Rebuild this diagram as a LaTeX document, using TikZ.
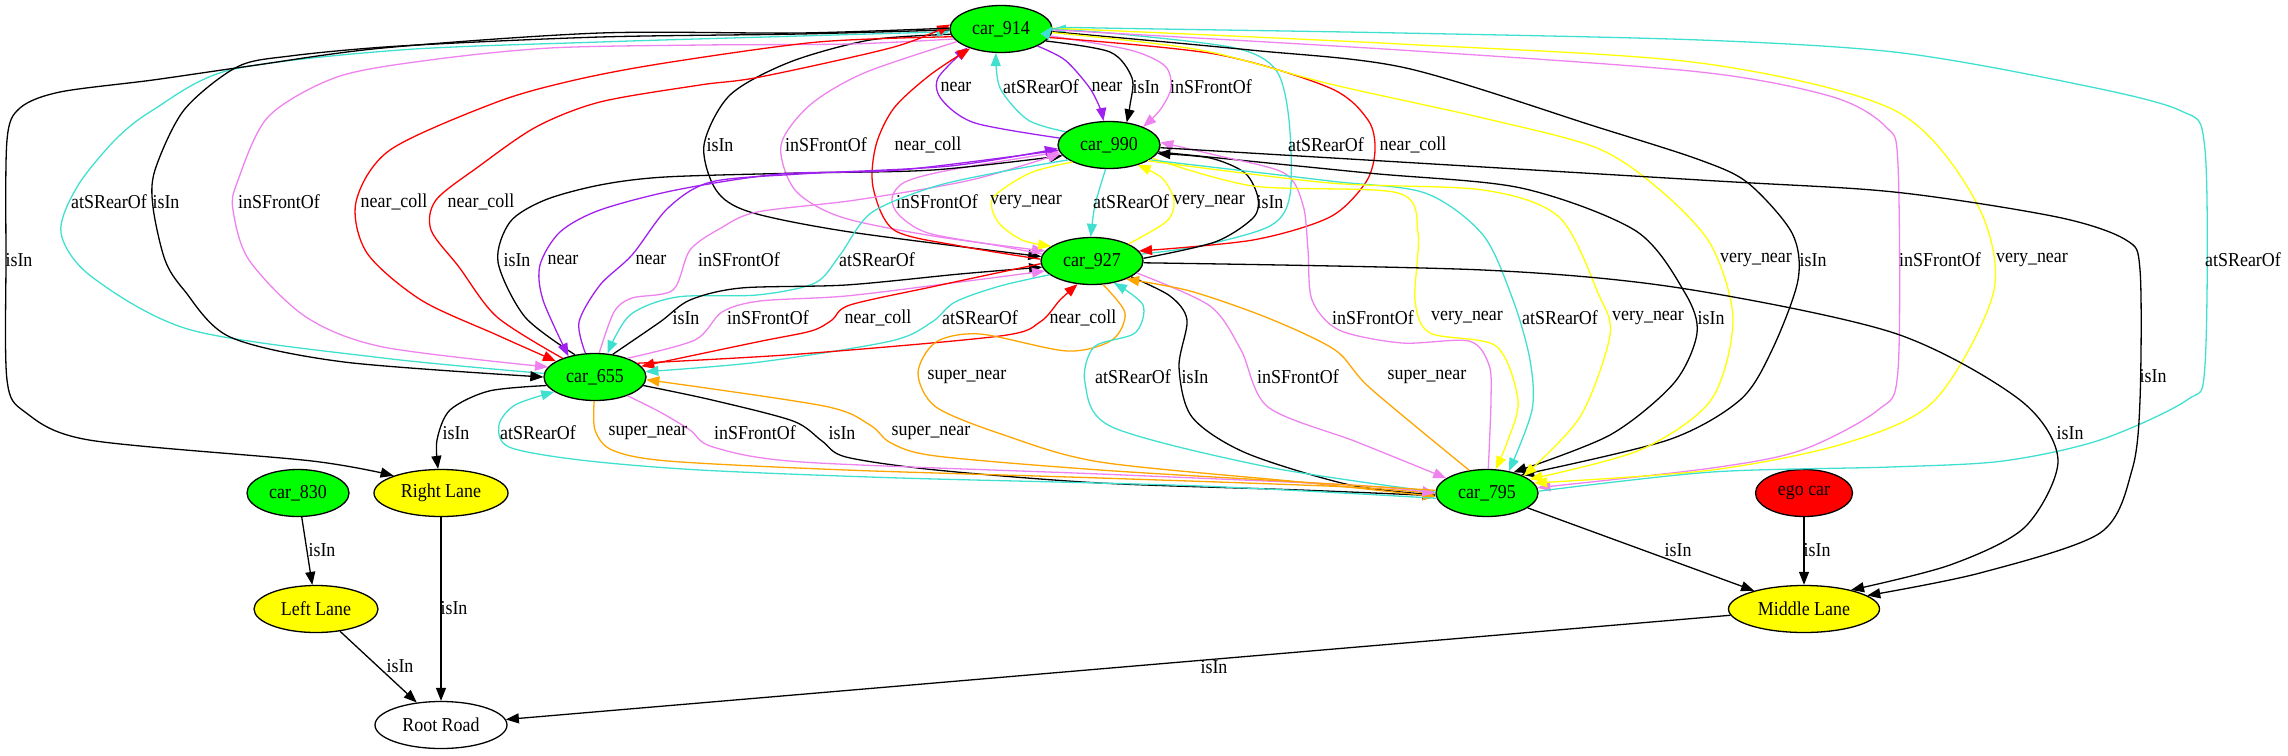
\documentclass[tikz,border=0pt]{standalone}
\usepackage{fontspec}
\setmainfont{Liberation Serif}[FakeStretch=0.91]
\usetikzlibrary{shapes.geometric,arrows.meta}
\definecolor{gvgreen}{HTML}{00FF00}
\definecolor{gvyellow}{HTML}{FFFF00}
\definecolor{gvred}{HTML}{FF0000}
\definecolor{gvpurple}{HTML}{A020F0}
\definecolor{gvturq}{HTML}{40E0D0}
\definecolor{gvviolet}{HTML}{EE82EE}
\definecolor{gvorange}{HTML}{FFA500}
\newcommand{\gvf}{\fontsize{19.7pt}{21pt}\selectfont}
\tikzset{
  edge/.style={line width=1.3pt, -{Triangle[length=13pt,width=10pt]}},
  cisin/.style={edge, draw=black},
  cnear/.style={edge, draw=gvpurple},
  crear/.style={edge, draw=gvturq},
  cfront/.style={edge, draw=gvviolet},
  ccoll/.style={edge, draw=gvred},
  cvery/.style={edge, draw=gvyellow},
  csuper/.style={edge, draw=gvorange},
  carnode/.style={ellipse, draw, line width=1.3pt, fill=gvgreen, minimum width=102pt, minimum height=47pt, inner sep=0pt, font=\gvf},
  lanenode/.style={carnode, fill=gvyellow},
  lbl/.style={font=\gvf, inner sep=0pt}
}
\begin{document}
\begin{tikzpicture}[x=1pt,y=-1pt]
\useasboundingbox (0,0) rectangle (2288,755);
% nodes
\node[carnode] (n914) at (1001,29) {car\_914};
\node[carnode] (n990) at (1109,145) {car\_990};
\node[carnode] (n927) at (1092,261) {car\_927};
\node[carnode] (n655) at (595,377) {car\_655};
\node[carnode] (n795) at (1487,493) {car\_795};
\node[carnode] (n830) at (298,493) {car\_830};
\node[lanenode, minimum width=134pt] (nRL) at (441,493) {Right Lane};
\node[carnode, fill=gvred, minimum width=97pt] (nEgo) at (1804,493) {ego car};
\node[lanenode, minimum width=124pt] (nLL) at (316,609) {Left Lane};
\node[lanenode, minimum width=151pt] (nML) at (1804,609) {Middle Lane};
\node[carnode, fill=white, minimum width=132pt] (nRoot) at (441,725) {Root Road};

% 914 - 990
\draw[cnear] plot[smooth] coordinates {(n990.172) (975,123) (942,100) (938,78) (n914.209)};
\draw[crear] plot[smooth] coordinates {(n990.163) (1028,120) (1000,88) (n914.258)};
\draw[cnear] plot[smooth] coordinates {(n914.335) (1065,60) (1089,87) (1100,108) (n990.103)};
\draw[cisin] plot[smooth] coordinates {(n914.345) (1110,52) (1132,78) (1130,105) (n990.52)};
\draw[cfront] plot[smooth] coordinates {(n914.352) (1130,50) (1165,66) (1171,88) (1160,110) (n990.28)};
\node[lbl] (l1) at (956,87) {near};
\node[lbl] (l2) at (1041,87) {atSRearOf};
\node[lbl] (l3) at (1107,87) {near};
\node[lbl] (l4) at (1146,87) {isIn};
\node[lbl] (l5) at (1211,87) {inSFrontOf};

% 914 - 927
\draw[cisin] plot[smooth] coordinates {(n914.186) (870,40) (790,62) (730,95) (704,145) (716,190) (750,212) (850,232) (n927.175)};
\draw[cfront] plot[smooth] coordinates {(n914.196) (864,73) (810,105) (781,145) (795,190) (841,217) (933,236) (n927.168)};
\draw[ccoll] plot[smooth] coordinates {(n927.178) (960,246) (894,230) (873,187) (876,145) (894,108) (930,75) (n914.212)};
\draw[crear] plot[smooth] coordinates {(n927.8) (1200,246) (1270,226) (1290,195) (1289,120) (1276,70) (1235,48) (1120,34) (n914.0)};
\draw[ccoll] plot[smooth] coordinates {(n914.350) (1215,54) (1330,88) (1368,120) (1375,150) (1366,182) (1330,217) (1253,240) (n927.12)};
\node[lbl] (l6) at (720,145) {isIn};
\node[lbl] (l7) at (826,145) {inSFrontOf};
\node[lbl] (l8) at (928,145) {near\_coll};
\node[lbl] (l9) at (1326,145) {atSRearOf};
\node[lbl] (l10) at (1413,145) {near\_coll};

% 990 - 927
\draw[cfront] plot[smooth] coordinates {(n927.172) (1000,246) (928,233) (899,215) (892,198) (905,182) (950,170) (n990.188)};
\draw[cvery] plot[smooth] coordinates {(n990.205) (1030,173) (993,198) (998,222) (1022,240) (n927.160)};
\draw[crear] plot[smooth] coordinates {(n990.262) (1095,205) (n927.93)};
\draw[cvery] plot[smooth] coordinates {(n927.25) (1167,221) (1174,200) (1162,178) (n990.325)};
\draw[cisin] plot[smooth] coordinates {(n927.3) (1215,242) (1253,218) (1258,198) (1245,173) (1210,158) (n990.350)};
\node[lbl] (l11) at (937,202) {inSFrontOf};
\node[lbl] (l12) at (1026,202) {very\_near};
\node[lbl] (l13) at (1131,202) {atSRearOf};
\node[lbl] (l14) at (1209,202) {very\_near};
\node[lbl] (l15) at (1270,202) {isIn};

% 914 - 655
\draw[crear] plot[smooth] coordinates {(n655.176) (383,358) (191,330) (92,277) (61,233) (77,187) (115,140) (153,110) (230,70) (400,50) (600,42) (800,36) (n914.183)};
\draw[cisin] plot[smooth] coordinates {(n914.181) (800,34) (600,37) (400,46) (290,56) (237,67) (184,110) (155,170) (153,207) (165,260) (184,290) (230,337) (344,362) (n655.180)};
\draw[cfront] plot[smooth] coordinates {(n914.192) (850,44) (703,45) (550,48) (430,60) (337,77) (268,117) (237,183) (233,210) (249,260) (306,317) (383,347) (n655.168)};
\draw[ccoll] plot[smooth] coordinates {(n914.189) (818,42) (665,63) (575,80) (497,102) (390,150) (356,202) (367,253) (421,300) (497,335) (n655.158)};
\draw[ccoll] plot[smooth] coordinates {(n655.150) (497,317) (459,267) (431,230) (436,200) (478,167) (536,127) (600,102) (700,85) (760,77) (894,47) (n914.175)};
\node[lbl] (l16) at (109,202) {atSRearOf};
\node[lbl] (l17) at (166,202) {isIn};
\node[lbl] (l18) at (279,202) {inSFrontOf};
\node[lbl] (l19) at (394,202) {near\_coll};
\node[lbl] (l20) at (481,202) {near\_coll};

% 914 - Right Lane
\draw[cisin] plot[smooth] coordinates {(n914.179) (800,33) (600,33) (383,48) (250,66) (153,80) (60,92) (20,108) (7,140) (6,260) (7,380) (25,412) (89,440) (312,461) (nRL.160)};
\node[lbl] (l21) at (19,260) {isIn};

% 990 - 655
\draw[cisin] plot[smooth] coordinates {(n655.132) (525,317) (498,262) (510,222) (545,200) (600,185) (665,177) (800,173) (933,170) (n990.193)};
\draw[cnear] plot[smooth] coordinates {(n990.186) (900,170) (780,174) (676,190) (600,210) (560,232) (540,265) (543,300) (n655.142)};
\draw[cnear] plot[smooth] coordinates {(n655.112) (579,322) (600,285) (632,255) (668,208) (711,182) (800,174) (950,166) (n990.184)};
\draw[cfront] plot[smooth] coordinates {(n655.80) (614,312) (632,298) (673,290) (690,250) (721,228) (757,212) (856,200) (971,180) (n990.190)};
\draw[crear] plot[smooth] coordinates {(n990.200) (1000,172) (933,187) (871,213) (840,255) (815,283) (757,295) (677,297) (630,315) (n655.62)};
\node[lbl] (l22) at (517,260) {isIn};
\node[lbl] (l23) at (563,260) {near};
\node[lbl] (l24) at (651,260) {near};
\node[lbl] (l25) at (739,260) {inSFrontOf};
\node[lbl] (l26) at (877,260) {atSRearOf};

% 927 - 655
\draw[cisin] plot[smooth] coordinates {(n655.52) (660,322) (690,300) (741,288) (846,285) (960,274) (n927.187)};
\draw[cfront] plot[smooth] coordinates {(n655.30) (695,340) (722,312) (760,301) (846,296) (960,282) (n927.192)};
\draw[ccoll] plot[smooth] coordinates {(n927.183) (936,286) (850,305) (832,320) (811,331) (757,342) (n655.13)};
\draw[crear] plot[smooth] coordinates {(n927.198) (1000,286) (955,302) (932,322) (891,341) (760,362) (n655.6)};
\draw[ccoll] plot[smooth] coordinates {(n655.18) (800,354) (1000,336) (1040,322) (1060,300) (n927.238)};
\node[lbl] (l27) at (686,318) {isIn};
\node[lbl] (l28) at (768,318) {inSFrontOf};
\node[lbl] (l29) at (878,318) {near\_coll};
\node[lbl] (l30) at (980,318) {atSRearOf};
\node[lbl] (l31) at (1083,318) {near\_coll};

% black edges into car_795 (drawn first so the coloured tips lie on top)
\draw[cisin] plot[smooth] coordinates {(n990.352) (1368,173) (1521,188) (1636,231) (1685,293) (1697,333) (1674,383) (1610,435) (n795.38)};
\draw[cisin] plot[smooth] coordinates {(n914.357) (1250,50) (1406,68) (1597,127) (1700,160) (1748,183) (1792,233) (1798,280) (1772,350) (1740,400) (1668,440) (n795.28)};
\draw[cisin] plot[smooth] coordinates {(n927.338) (1170,296) (1187,320) (1179,367) (1192,417) (1246,453) (1350,485) (n795.182)};
\draw[cisin] plot[smooth] coordinates {(n655.350) (712,400) (793,421) (822,441) (846,457) (936,470) (1100,483) (1300,490) (n795.183)};

% 990 - 795
\draw[cfront] plot[smooth] coordinates {(n795.87) (1491,400) (1489,365) (1469,341) (1402,343) (1339,330) (1312,300) (1308,250) (1303,205) (1284,173) (1215,155) (n990.3)};
\draw[cvery] plot[smooth] coordinates {(n990.343) (1253,186) (1398,193) (1418,233) (1415,300) (1430,333) (1496,346) (1518,400) (1508,440) (n795.70)};
\draw[crear] plot[smooth] coordinates {(n990.340) (1330,181) (1425,193) (1483,235) (1513,300) (1530,360) (1532,410) (n795.45)};
\draw[cvery] plot[smooth] coordinates {(n990.338) (1330,183) (1483,190) (1559,217) (1598,293) (1610,335) (1580,417) (n795.25)};
\node[lbl] (l32) at (1373,318) {inSFrontOf};
\node[lbl] (l33) at (1467,318) {very\_near};
\node[lbl] (l34) at (1560,318) {atSRearOf};
\node[lbl] (l35) at (1648,318) {very\_near};
\node[lbl] (l36) at (1711,318) {isIn};

% 914 - 795
\draw[cvery] plot[smooth] coordinates {(n914.356) (1200,50) (1330,84) (1483,118) (1597,148) (1660,190) (1711,245) (1733,320) (1711,400) (1640,450) (n795.18)};
\draw[cfront] plot[smooth] coordinates {(n914.359) (1400,50) (1700,72) (1833,97) (1886,127) (1898,165) (1898,370) (1878,410) (1802,450) (1712,468) (n795.6)};
\draw[cvery] plot[smooth] coordinates {(n914.1) (1400,44) (1700,63) (1894,110) (1975,200) (1994,290) (1935,400) (1846,443) (1712,470) (n795.12)};
\draw[crear] plot[smooth] coordinates {(n795.2) (1712,472) (1891,467) (2003,461) (2100,440) (2187,400) (2205,365) (2205,150) (2179,110) (2057,80) (1894,52) (1700,40) (1400,33) (1100,28) (n914.3)};
\node[lbl] (l37) at (1756,260) {very\_near};
\node[lbl] (l38) at (1813,260) {isIn};
\node[lbl] (l39) at (1940,260) {inSFrontOf};
\node[lbl] (l40) at (2032,260) {very\_near};
\node[lbl] (l41) at (2243,260) {atSRearOf};

% 927 - 795
\draw[csuper] plot[smooth] coordinates {(n927.295) (1125,313) (1112,340) (1067,351) (980,334) (936,342) (918,373) (936,407) (1004,435) (1100,462) (1300,482) (n795.184)};
\draw[crear] plot[smooth] coordinates {(n795.179) (1268,467) (1112,427) (1085,383) (1094,347) (1135,333) (1143,305) (n927.315)};
\draw[cfront] plot[smooth] coordinates {(n927.345) (1210,306) (1241,350) (1268,407) (1357,442) (n795.160)};
\draw[csuper] plot[smooth] coordinates {(n795.128) (1370,388) (1335,350) (1268,318) (1190,291) (n927.332)};
\node[lbl] (l42) at (967,377) {super\_near};
\node[lbl] (l43) at (1133,377) {atSRearOf};
\node[lbl] (l44) at (1195,377) {isIn};
\node[lbl] (l45) at (1298,377) {inSFrontOf};
\node[lbl] (l46) at (1427,377) {super\_near};

% 655 - 795
\draw[crear] plot[smooth] coordinates {(n795.186) (1200,486) (900,478) (700,470) (580,460) (509,447) (499,425) (515,405) (n655.200)};
\draw[csuper] plot[smooth] coordinates {(n655.268) (595,430) (612,450) (668,461) (846,470) (1100,478) (1350,487) (n795.181)};
\draw[cfront] plot[smooth] coordinates {(n655.330) (660,412) (690,430) (713,447) (802,462) (1100,474) (1350,485) (n795.180)};
\draw[csuper] plot[smooth] coordinates {(n795.177) (1300,482) (1100,470) (936,456) (891,443) (870,425) (824,406) (n655.357)};
\node[lbl] (l47) at (538,433) {atSRearOf};
\node[lbl] (l48) at (648,433) {super\_near};
\node[lbl] (l49) at (755,433) {inSFrontOf};
\node[lbl] (l50) at (842,433) {isIn};
\node[lbl] (l51) at (931,433) {super\_near};

% lanes
\draw[cisin] plot[smooth] coordinates {(n655.190) (489,391) (450,410) (437,440) (nRL.97)};
\node[lbl] (l52) at (456,433) {isIn};
\draw[cisin] plot[smooth] coordinates {(n927.358) (1483,270) (1680,288) (1894,333) (2020,400) (2058,460) (2025,527) (1950,565) (nML.22)};
\node[lbl] (l59) at (2070,433) {isIn};
\draw[cisin] plot[smooth] coordinates {(n990.357) (1700,180) (1894,192) (2057,217) (2126,240) (2140,270) (2140,400) (2132,470) (2100,533) (1980,573) (nML.12)};
\node[lbl] (l60) at (2153,376) {isIn};
\draw[cisin] (n830) -- (nLL);
\node[lbl] (l53) at (322,550) {isIn};
\draw[cisin] (nRL) -- (nRoot);
\node[lbl] (l54) at (454,608) {isIn};
\draw[cisin] (nLL) -- (nRoot);
\node[lbl] (l55) at (400,666) {isIn};
\draw[cisin] (nML) -- (nRoot);
\node[lbl] (l56) at (1214,667) {isIn};
\draw[cisin] (n795) -- (nML);
\node[lbl] (l57) at (1678,550) {isIn};
\draw[cisin] (nEgo) -- (nML);
\node[lbl] (l58) at (1817,550) {isIn};
\end{tikzpicture}
\end{document}
